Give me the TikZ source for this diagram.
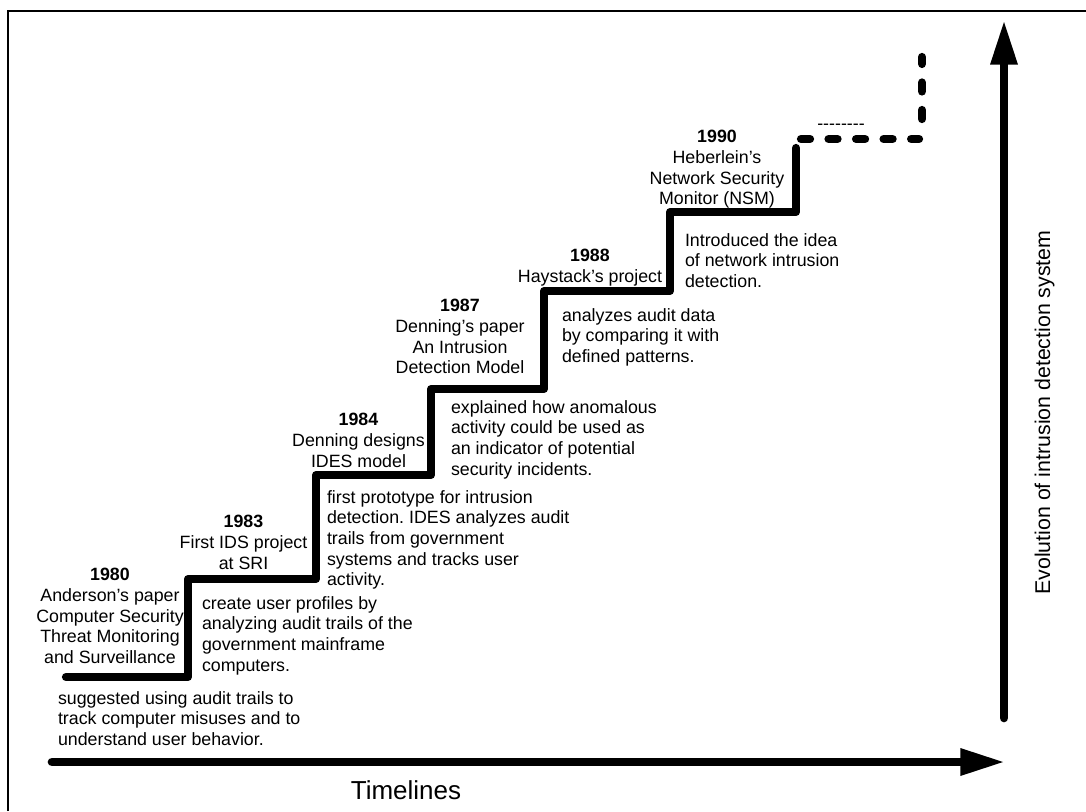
\documentclass[tikz,border=0pt]{standalone}
\usepackage{fontspec}
\setmainfont{Liberation Sans}
\usetikzlibrary{arrows.meta}
\frenchspacing
\begin{document}
\begin{tikzpicture}[x=0.75pt,y=-0.75pt,
  every node/.style={inner sep=0pt, outer sep=0pt},
  body/.style={font=\fontsize{13.35pt}{15.5pt}\selectfont},
  milestone/.style={body, align=center, anchor=north},
  note/.style={body, align=left, anchor=north west},
  stair/.style={line width=6.2pt, line cap=round, line join=round},
  future/.style={stair, dash pattern=on 6.75pt off 13.9pt},
  axis/.style={line width=6.5pt, line cap=round,
    -{Triangle[length=32pt,width=21pt,line width=0pt]}},
]
\useasboundingbox (0,0) rectangle (1086,811);

% frame
\draw[line width=2pt] (8,811) -- (8,11) -- (1086,11);

% staircase corners
\coordinate (s0) at (66,677);
\coordinate (s1) at (188,677);
\coordinate (s2) at (188,579);
\coordinate (s3) at (316,579);
\coordinate (s4) at (316,475);
\coordinate (s5) at (431,475);
\coordinate (s6) at (431,389);
\coordinate (s7) at (544,389);
\coordinate (s8) at (544,291);
\coordinate (s9) at (670,291);
\coordinate (s10) at (670,212);
\coordinate (s11) at (796,212);
\coordinate (s12) at (796,148);
\draw[stair] (s0) -- (s1) -- (s2) -- (s3) -- (s4) -- (s5) -- (s6) -- (s7)
  -- (s8) -- (s9) -- (s10) -- (s11) -- (s12);

% the steps still to come
\coordinate (f0) at (801,139);
\coordinate (f1) at (919,139);
\coordinate (f2) at (922,119);
\coordinate (f3) at (922,57);
\draw[future] (f0) -- (f1);
\draw[future] (f2) -- (f3);
\node[body, anchor=base] (more) at (841,129) {-\kern0pt-\kern0pt-\kern0pt-\kern0pt-\kern0pt-\kern0pt-\kern0pt-};

% axes
\coordinate (t0) at (52,762);
\coordinate (t1) at (1003,762);
\draw[axis] (t0) -- (t1);
\coordinate (e0) at (1004,718);
\coordinate (e1) at (1004,22);
\draw[axis] (e0) -- (e1);
\node[font=\fontsize{19.5pt}{22pt}\selectfont, anchor=center] (timelines) at (406,790.5) {Timelines};
\node[font=\fontsize{16pt}{19pt}\selectfont, anchor=base, rotate=90] (evolution) at (1050,412.5) {Evolution of intrusion detection system};

% milestones
\node[milestone] (m1980) at (110,568.4) {\textbf{1980}\\Anderson’s paper\\Computer Security\\Threat Monitoring\\and Surveillance};
\node[note] (n1980) at (58,691.4) {suggested using audit trails to\\track computer misuses and to\\understand user behavior.};

\node[milestone] (m1983) at (243.5,515.4) {\textbf{1983}\\First IDS project\\at SRI};
\node[note] (n1983) at (202,596.4) {create user profiles by\\analyzing audit trails of the\\government mainframe\\computers.};

\node[milestone] (m1984) at (358.5,413.4) {\textbf{1984}\\Denning designs\\IDES model};
\node[note] (n1984) at (327,490.4) {first prototype for intrusion\\detection. IDES analyzes audit\\trails from government\\systems and tracks user\\activity.};

\node[milestone] (m1987) at (460,299.4) {\textbf{1987}\\Denning’s paper\\An Intrusion\\Detection Model};
\node[note] (n1987) at (451,400.4) {explained how anomalous\\activity could be used as\\an indicator of potential\\security incidents.};

\node[milestone] (m1988) at (590,249.4) {\textbf{1988}\\Haystack’s project};
\node[note] (n1988) at (562,308.4) {analyzes audit data\\by comparing it with\\defined patterns.};

\node[milestone] (m1990) at (717,130.4) {\textbf{1990}\\Heberlein’s\\Network Security\\Monitor (NSM)};
\node[note] (n1990) at (685,233.4) {Introduced the idea\\of network intrusion\\detection.};
\end{tikzpicture}
\end{document}
